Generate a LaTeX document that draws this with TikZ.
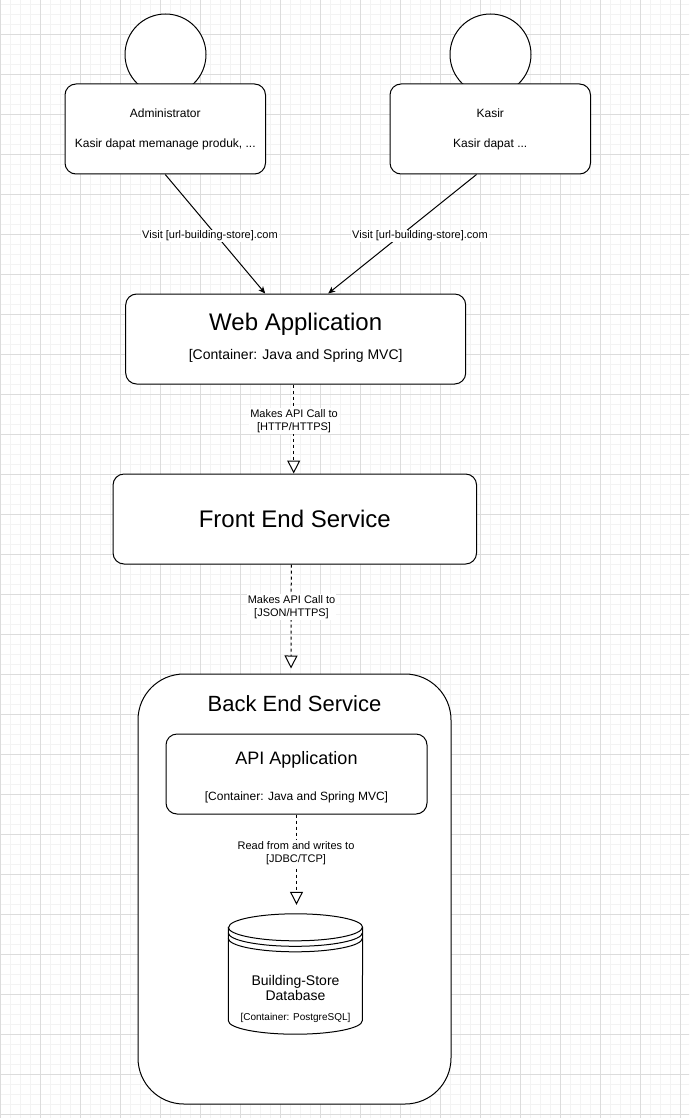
\documentclass[tikz,border=0pt]{standalone}
\usepackage{fontspec}
\setmainfont{Liberation Sans}
\usepackage{xcolor}
\usepackage{tikz}
\usetikzlibrary{arrows.meta}
\usetikzlibrary{shapes,arrows,positioning}
\definecolor{gridMajor}{HTML}{DCDCDC}
\definecolor{gridMinor}{HTML}{F3F3F3}
\tikzset{c4-line/.style={line width=1pt}}
\tikzset{c4-box/.style={draw, c4-line, fill=white, rounded corners=11pt, inner sep=0}}
\tikzset{person-head/.style={draw, c4-line, fill=white, circle, minimum size=81pt, inner sep=0}}
\tikzset{person-box/.style={c4-box, minimum width=200.5pt, minimum height=90pt, align=center,
    font=\fontsize{12}{14}\selectfont}}
\tikzset{title-text/.style={inner sep=0, font=\fontsize{24}{28}\selectfont}}
\tikzset{tech-text/.style={inner sep=0, font=\fontsize{14}{16}\selectfont}}
\tikzset{edge-label/.style={fill=white, inner sep=1pt, align=center, font=\fontsize{11}{13}\selectfont}}
\tikzset{visit-edge/.style={c4-line, -{Stealth[length=7pt, width=6pt, inset=2pt]}}}
\tikzset{call-edge/.style={c4-line, dash pattern=on 3pt off 3pt,
    -{Triangle[length=13pt, width=13pt, fill=white]}}}
\tikzset{db-frame/.style={inner sep=0, minimum width=134pt, minimum height=120pt}}

\begin{document}
\begin{tikzpicture}[x=1pt, y=-1pt]
    \useasboundingbox (0,0) rectangle (689,1118);
    \fill[white] (0,0) rectangle (689,1118);
    % grid
    \begin{scope}
        \clip (0,0) rectangle (689,1118);
        \draw[gridMinor, line width=0.6pt, step=10pt, yshift=-4pt] (-20,-20) grid (710,1140);
        \draw[gridMajor, line width=0.8pt, step=40pt, yshift=-34pt] (-40,-40) grid (730,1160);
    \end{scope}

    % persons
    \node[person-head] (adminhead) at (165.5,54.5) {};
    \node[person-box] (adminbox) at (165.25,129) {Administrator\\[16pt]Kasir dapat memanage produk, ...};
    \node[person-head] (kasirhead) at (490.5,54.5) {};
    \node[person-box] (kasirbox) at (490.25,129) {Kasir\\[16pt]Kasir dapat ...};

    % containers
    \node[c4-box, minimum width=340pt, minimum height=90pt] (webapp) at (295.7,339) {};
    \node[title-text] (webapptitle) at ([yshift=15pt]webapp.center) {Web Application};
    \node[tech-text] (webapptech) at ([yshift=-17pt]webapp.center) {[Container: Java and Spring MVC]};

    \node[c4-box, minimum width=363.5pt, minimum height=90pt] (frontend) at (294.8,519) {};
    \node[title-text] (frontendtitle) at (frontend.center) {Front End Service};

    \node[c4-box, rounded corners=46pt, minimum width=313pt, minimum height=430pt] (backend) at (294.5,889) {};
    \node[title-text, font=\fontsize{22}{26}\selectfont] (backendtitle) at ([yshift=-30pt]backend.north) {Back End Service};

    \node[c4-box, minimum width=261pt, minimum height=80pt] (api) at (296.5,774) {};
    \node[title-text, font=\fontsize{18}{22}\selectfont] (apititle) at ([yshift=14pt]api.center) {API Application};
    \node[tech-text, font=\fontsize{12}{14}\selectfont] (apitech) at ([yshift=-23pt]api.center) {[Container: Java and Spring MVC]};

    % database
    \node[db-frame] (db) at (295.5,974) {};
    \draw[c4-line, fill=white] ([yshift=-13.5pt]db.north west) -- ([yshift=13.5pt]db.south west)
        arc[start angle=180, end angle=360, x radius=67pt, y radius=13.5pt]
        -- ([yshift=-13.5pt]db.north east)
        arc[start angle=0, end angle=180, x radius=67pt, y radius=13.5pt] -- cycle;
    \draw[c4-line] ([yshift=-13.5pt]db.north west) arc[start angle=180, end angle=360, x radius=67pt, y radius=13.5pt];
    \draw[c4-line] ([yshift=-19pt]db.north west) arc[start angle=180, end angle=360, x radius=67pt, y radius=13.5pt];
    \draw[c4-line] ([yshift=-24.5pt]db.north west) arc[start angle=180, end angle=360, x radius=67pt, y radius=13.5pt];
    \node[tech-text, align=center, font=\fontsize{14}{15}\selectfont] (dbname) at ([yshift=-14pt]db.center) {Building-Store\\Database};
    \node[tech-text, font=\fontsize{10}{12}\selectfont] (dbtech) at ([yshift=-44pt]db.center) {[Container: PostgreSQL]};

    % connectors
    \draw[visit-edge] (adminbox.south) -- ([xshift=-30.5pt]webapp.north);
    \draw[visit-edge] ([xshift=-13.75pt]kasirbox.south) -- ([xshift=32.5pt]webapp.north);
    \draw[call-edge] ([xshift=-2pt]webapp.south) -- ([xshift=-2pt]webapp.south |- frontend.north);
    \draw[call-edge, shorten >=5pt] ([xshift=-3.5pt]frontend.south) -- ([xshift=-3.5pt]backend.north);
    \draw[call-edge, shorten >=9pt] (api.south) -- (api.south |- db.north);

    \node[edge-label] (visitadmin) at (210,236) {Visit [url-building-store].com};
    \node[edge-label] (visitkasir) at (420,236) {Visit [url-building-store].com};
    \node[edge-label] (callfrontend) at (294,421) {Makes API Call to\\{[HTTP/HTTPS]}};
    \node[edge-label] (callbackend) at (291.5,607) {Makes API Call to\\{[JSON/HTTPS]}};
    \node[edge-label] (readdb) at (296,853) {Read from and writes to\\{[JDBC/TCP]}};
\end{tikzpicture}
\end{document}
